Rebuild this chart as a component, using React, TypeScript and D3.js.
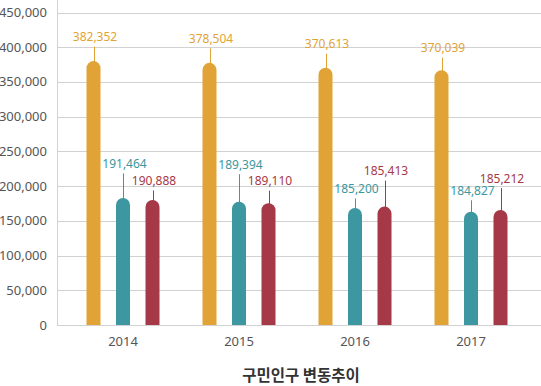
import React, { useRef, useEffect } from "react";
import * as d3 from "d3";

const years = ["2014", "2015", "2016", "2017"];
const seriesNames = ["total", "male", "female"];
// values printed on the labels
const totalLabels = [382352, 378504, 370613, 370039];
const maleLabels = [191464, 189394, 185200, 184827];
const femaleLabels = [190888, 189110, 185413, 185212];
// bar heights as they are drawn in the picture
const totalBars = [380000, 377500, 370500, 367000];
const maleBars = [183000, 177500, 168500, 163000];
const femaleBars = [180000, 175500, 170500, 165500];
const yTicks = [0, 50000, 100000, 150000, 200000, 250000, 300000, 350000, 400000, 450000];
const title = "구민인구 변동추이";

// how far each label sits above its bar (px)
const labelLift = [
  [20, 20, 19.5, 18],
  [30, 33, 15, 17],
  [15, 18, 31.5, 27.5],
];

function App() {
  const chartRef = useRef<HTMLDivElement>(null);

  useEffect(() => {
    d3.select(chartRef.current).select("svg").remove();

    const width = 541,
      height = 386;
    const left = 57,
      bottom = 325,
      top = 12.5;
    const colors = ["#E1A335", "#3D97A0", "#A53947"];
    const font = "'Noto Sans', 'Open Sans', sans-serif";

    const svg = d3
      .select(chartRef.current)
      .append("svg")
      .attr("width", width)
      .attr("height", height)
      .style("position", "absolute")
      .style("left", "0px")
      .style("top", "0px");

    const y = d3.scaleLinear().domain([0, 450000]).range([bottom, top]);
    const x0 = d3.scaleBand().domain(years).range([65, 529]);
    const x1 = d3.scalePoint().domain(seriesNames).range([-29.5, 29.5]);

    // grid
    svg
      .append("g")
      .selectAll("line")
      .data(yTicks)
      .enter()
      .append("line")
      .attr("x1", left)
      .attr("x2", width)
      .attr("y1", d => Math.round(y(d)) + 0.5)
      .attr("y2", d => Math.round(y(d)) + 0.5)
      .attr("stroke", "#d2d2d2")
      .attr("stroke-width", 1);

    svg
      .append("line")
      .attr("x1", left + 0.5)
      .attr("x2", left + 0.5)
      .attr("y1", 0)
      .attr("y2", Math.round(bottom) + 0.5)
      .attr("stroke", "#d2d2d2");

    svg
      .append("g")
      .selectAll("text")
      .data(yTicks)
      .enter()
      .append("text")
      .attr("x", 47)
      .attr("y", d => y(d))
      .attr("dy", "0.35em")
      .attr("text-anchor", "end")
      .attr("font-family", font)
      .attr("font-size", "13px")
      .attr("fill", "#555")
      .text(d => d3.format(",")(d));

    svg
      .append("g")
      .selectAll("text")
      .data(years)
      .enter()
      .append("text")
      .attr("x", d => x0(d)! + x0.bandwidth() / 2)
      .attr("y", 346)
      .attr("text-anchor", "middle")
      .attr("font-family", font)
      .attr("font-size", "13px")
      .attr("fill", "#555")
      .text(d => d);

    const bars = [totalBars, maleBars, femaleBars];
    const labels = [totalLabels, maleLabels, femaleLabels];
    const barW = 14,
      r = barW / 2;

    seriesNames.forEach((s, si) => {
      const g = svg.append("g");
      const rows = years.map((yr, i) => ({
        cx: x0(yr)! + x0.bandwidth() / 2 + x1(s)!,
        top: y(bars[si][i]),
        label: labels[si][i],
        lift: labelLift[si][i],
      }));

      g.selectAll("path")
        .data(rows)
        .enter()
        .append("path")
        .attr("d", d => {
          const p = d3.path();
          p.moveTo(d.cx - r, bottom);
          p.lineTo(d.cx - r, d.top + r);
          p.arc(d.cx, d.top + r, r, Math.PI, 0);
          p.lineTo(d.cx + r, bottom);
          p.closePath();
          return p.toString();
        })
        .attr("fill", colors[si]);

      g.selectAll("line")
        .data(rows)
        .enter()
        .append("line")
        .attr("x1", d => Math.round(d.cx) + 0.5)
        .attr("x2", d => Math.round(d.cx) + 0.5)
        .attr("y1", d => d.top - d.lift + 5.5)
        .attr("y2", d => d.top + 1)
        .attr("stroke", colors[si])
        .attr("stroke-width", 1);

      g.selectAll("text")
        .data(rows)
        .enter()
        .append("text")
        .attr("x", d => d.cx + 1.5)
        .attr("y", d => d.top - d.lift)
        .attr("text-anchor", "middle")
        .attr("font-family", font)
        .attr("font-size", "12px")
        .attr("fill", colors[si])
        .text(d => d3.format(",")(d.label));
    });

    svg
      .append("text")
      .attr("x", 301)
      .attr("y", 381)
      .attr("text-anchor", "middle")
      .attr("font-family", "'Noto Sans CJK KR', sans-serif")
      .attr("font-weight", "bold")
      .attr("font-size", "15.5px")
      .attr("fill", "#333")
      .text(title);
  }, []);

  return <div ref={chartRef}></div>;
}

export default App;
